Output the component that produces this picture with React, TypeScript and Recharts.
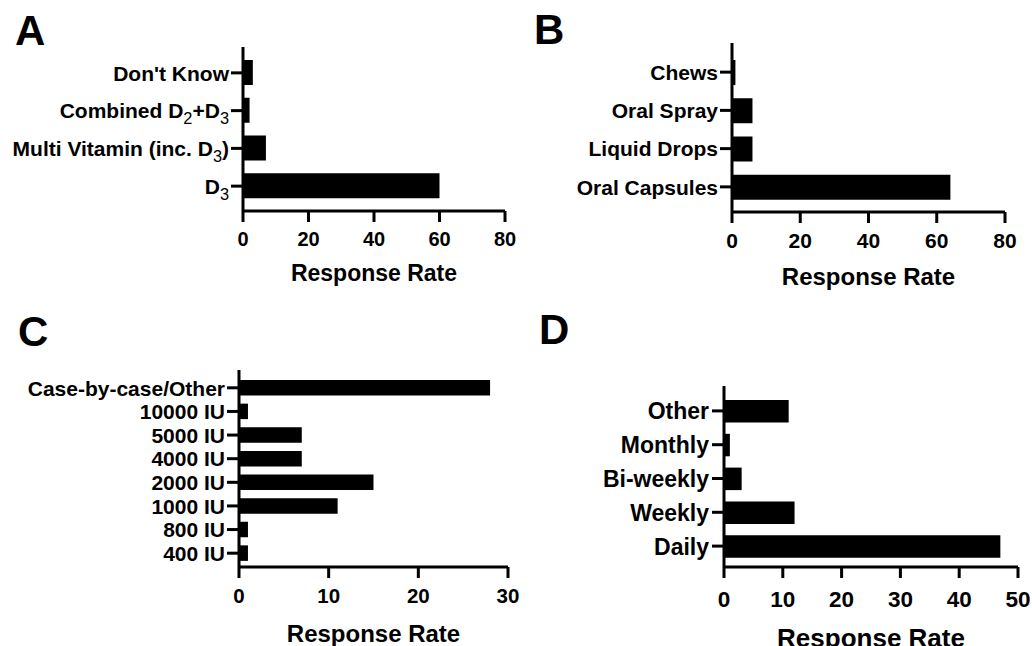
import React from 'react';
import { BarChart, Bar, XAxis, YAxis } from 'recharts';

// A: vitamin D form
const formLabels = ["Don't Know", 'Combined D₂+D₃', 'Multi Vitamin (inc. D₃)', 'D₃'];
const formValues = [3, 2, 7, 60];

// B: delivery method
const methodLabels = ['Chews', 'Oral Spray', 'Liquid Drops', 'Oral Capsules'];
const methodValues = [1, 6, 6, 64];

// C: dose
const doseLabels = ['Case-by-case/Other', '10000 IU', '5000 IU', '4000 IU', '2000 IU', '1000 IU', '800 IU', '400 IU'];
const doseValues = [28, 1, 7, 7, 15, 11, 1, 1];

// D: frequency
const freqLabels = ['Other', 'Monthly', 'Bi-weekly', 'Weekly', 'Daily'];
const freqValues = [11, 1, 3, 12, 47];

const FONT = '"Liberation Sans", Arial, Helvetica, sans-serif';
const axisStyle = { stroke: '#000', strokeWidth: 3 };

const toRows = (labels: string[], values: number[]) =>
  labels.map((name, i) => ({ name, value: values[i] }));

const SUBS: Record<string, string> = { '₂': '2', '₃': '3' };

// category label with subscripts drawn as smaller, regular-weight digits
const SubTick = ({ x, y, payload, fontSize }: any) => {
  const parts: { t: string; sub: boolean }[] = [];
  for (const ch of String(payload.value)) {
    const sub = ch in SUBS;
    const last = parts[parts.length - 1];
    if (last && last.sub === sub) last.t += sub ? SUBS[ch] : ch;
    else parts.push({ t: sub ? SUBS[ch] : ch, sub });
  }
  let shift = 0;
  // baseline set on the text itself; tspans only carry the subscript shifts
  return (
    <text x={x} y={y + fontSize * 0.37} textAnchor="end" fill="#000" fontFamily={FONT} fontSize={fontSize} fontWeight={700}>
      {parts.map((p, i) => {
        const target = p.sub ? 6 : 0;
        const dy = target - shift;
        shift = target;
        return (
          <tspan key={i} dy={dy || undefined} fontSize={p.sub ? fontSize * 0.78 : fontSize} fontWeight={p.sub ? 400 : 700}>
            {p.t}
          </tspan>
        );
      })}
    </text>
  );
};

type PanelProps = {
  labels: string[];
  values: number[];
  left: number;
  top: number;
  width: number;
  height: number;
  yWidth: number;
  marginTop: number;
  marginRight: number;
  xHeight: number;
  max: number;
  ticks: number[];
  padTop: number;
  padBottom: number;
  barSize: number;
  labelSize: number;
  tickSize: number;
  titleSize: number;
  yTickMargin: number;
  xTickMargin: number;
  titleOffset: number;
};

const Panel = (p: PanelProps) => (
  <div style={{ position: 'absolute', left: p.left, top: p.top }}>
    <BarChart
      width={p.width}
      height={p.height}
      layout="vertical"
      data={toRows(p.labels, p.values)}
      margin={{ top: p.marginTop, right: p.marginRight, bottom: 0, left: 0 }}
    >
      <XAxis
        type="number"
        domain={[0, p.max]}
        ticks={p.ticks}
        height={p.xHeight}
        axisLine={axisStyle}
        tickLine={axisStyle}
        tickSize={11}
        tickMargin={p.xTickMargin}
        tick={{ fill: '#000', fontSize: p.tickSize, fontWeight: 700, fontFamily: FONT }}
        label={{
          value: 'Response Rate',
          position: 'insideTop',
          offset: p.titleOffset,
          fill: '#000',
          fontSize: p.titleSize,
          fontWeight: 700,
          fontFamily: FONT,
        }}
      />
      <YAxis
        type="category"
        dataKey="name"
        width={p.yWidth}
        padding={{ top: p.padTop, bottom: p.padBottom }}
        axisLine={axisStyle}
        tickLine={axisStyle}
        tickSize={12}
        tickMargin={p.yTickMargin}
        interval={0}
        tick={<SubTick fontSize={p.labelSize} />}
      />
      <Bar dataKey="value" fill="#000" barSize={p.barSize} isAnimationActive={false} />
    </BarChart>
  </div>
);

const letterStyle = { fontFamily: FONT, fontSize: 42, fontWeight: 700, fill: '#000' };

export default function App() {
  return (
    <div style={{ position: 'absolute', left: 0, top: 0, width: 1032, height: 646, background: '#fff', overflow: 'hidden' }}>
      <Panel
        labels={formLabels} values={formValues}
        left={0} top={0} width={520} height={300}
        yWidth={243} marginTop={47} marginRight={15} xHeight={89}
        max={80} ticks={[0, 20, 40, 60, 80]}
        padTop={7} padBottom={6} barSize={25}
        labelSize={21} tickSize={20} titleSize={23}
        yTickMargin={2} xTickMargin={10} titleOffset={54}
      />
      <Panel
        labels={methodLabels} values={methodValues}
        left={520} top={0} width={512} height={300}
        yWidth={212} marginTop={43} marginRight={27} xHeight={88}
        max={80} ticks={[0, 20, 40, 60, 80]}
        padTop={10} padBottom={6} barSize={25}
        labelSize={21} tickSize={21} titleSize={24}
        yTickMargin={2} xTickMargin={10} titleOffset={56}
      />
      <Panel
        labels={doseLabels} values={doseValues}
        left={0} top={300} width={520} height={346}
        yWidth={239} marginTop={70} marginRight={12} xHeight={79}
        max={30} ticks={[0, 10, 20, 30]}
        padTop={6} padBottom={2} barSize={15.5}
        labelSize={21} tickSize={20.5} titleSize={24}
        yTickMargin={2} xTickMargin={10} titleOffset={58}
      />
      <Panel
        labels={freqLabels} values={freqValues}
        left={520} top={300} width={512} height={346}
        yWidth={204} marginTop={86} marginRight={14} xHeight={79}
        max={50} ticks={[0, 10, 20, 30, 40, 50]}
        padTop={8} padBottom={4} barSize={22.5}
        labelSize={23} tickSize={22.5} titleSize={26}
        yTickMargin={3} xTickMargin={13} titleOffset={62}
      />
      <svg width={1032} height={646} style={{ position: 'absolute', left: 0, top: 0, pointerEvents: 'none' }}>
        <text x={15} y={45} style={letterStyle}>A</text>
        <text x={534} y={44} style={letterStyle}>B</text>
        <text x={18} y={346} style={letterStyle}>C</text>
        <text x={539} y={344} style={letterStyle}>D</text>
      </svg>
    </div>
  );
}
